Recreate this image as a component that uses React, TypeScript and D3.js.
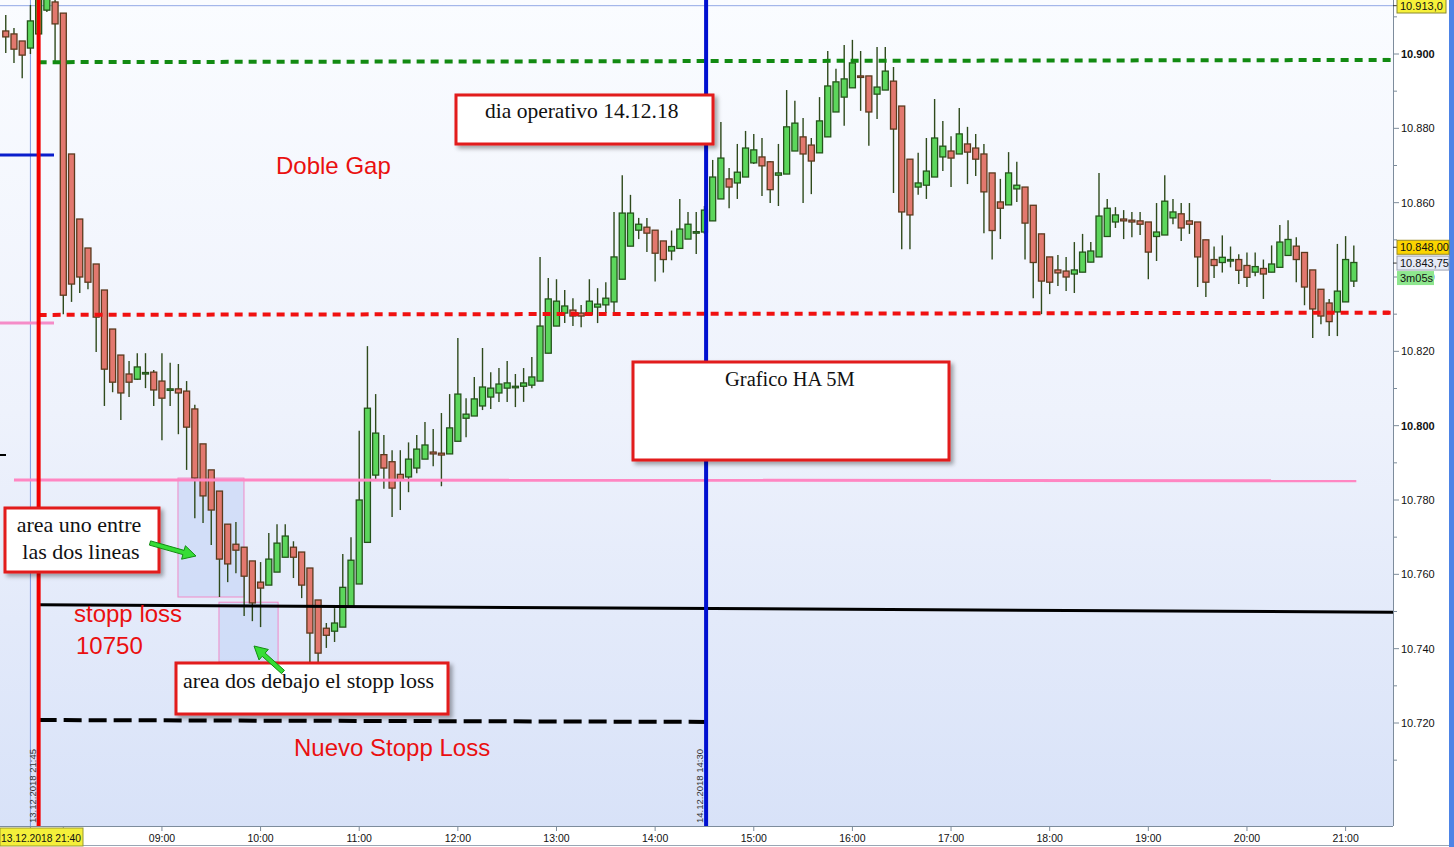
import React from 'react';
import * as d3 from 'd3';

// ---- DATA (Heikin-Ashi 5M candles, index 0 = 08:00 of 14.12.2018; negative = 13.12 evening) ----
const startIndex = -7;
const opens = [10906.2,10905.4,10903.5,10901.6,10905.4,10911.8,10914.0,
10911.0,10873.1,10855.6,10847.8,10843.5,10836.5,10826.0,10819.0,10813.9,10812.5,10814.1,10814.4,10812.0,10809.7,10809.9,10809.3,10804.5,10795.1,10788.1,10782.4,10773.5,10768.1,10767.3,10763.6,10757.9,10757.1,10760.6,10764.6,10767.3,10766.0,10761.7,10753.1,10745.5,10744.7,10745.8,10751.2,10757.4,10768.6,10786.7,10792.2,10790.3,10786.9,10786.2,10788.6,10791.0,10792.9,10792.6,10792.4,10795.8,10802.0,10802.6,10805.3,10807.7,10808.8,10810.1,10810.4,10810.6,10810.9,10812.0,10819.5,10826.8,10830.3,10831.1,10830.3,10830.0,10831.9,10832.5,10833.3,10839.4,10848.3,10852.6,10853.4,10852.6,10849.7,10847.0,10847.7,10850.2,10852.1,10852.1,10855.1,10861.0,10866.4,10865.3,10866.9,10870.7,10872.3,10871.0,10867.4,10867.7,10873.9,10877.7,10875.5,10873.4,10877.7,10884.4,10888.4,10890.9,10894.1,10894.1,10889.2,10890.3,10892.7,10886.0,10871.7,10864.2,10864.7,10866.9,10872.3,10873.9,10873.1,10875.8,10874.7,10873.1,10868.0,10860.2,10859.4,10863.7,10864.2,10859.3,10851.6,10845.4,10841.9,10841.6,10840.8,10841.3,10844.0,10845.4,10850.9,10854.8,10855.6,10855.3,10855.1,10854.8,10850.9,10851.3,10855.9,10857.0,10855.1,10854.8,10850.0,10844.7,10843.9,10844.6,10844.7,10843.1,10841.3,10842.3,10841.3,10842.6,10845.8,10848.3,10846.6,10841.9,10836.7,10833.0,10830.6,10833.3,10838.9];
const highs = [10910.5,10907.0,10903.5,10913.2,10918.8,10917.2,10914.5,
10911.0,10873.1,10855.6,10847.8,10843.5,10836.5,10826.0,10819.0,10817.4,10819.5,10819.5,10815.0,10819.5,10816.9,10816.6,10812.0,10805.6,10795.1,10788.1,10782.4,10773.5,10774.1,10767.3,10763.6,10763.3,10771.1,10773.5,10773.5,10768.9,10766.0,10761.7,10753.1,10746.9,10750.9,10765.5,10770.0,10798.6,10821.4,10808.5,10797.5,10793.4,10793.4,10795.5,10797.5,10801.0,10799.1,10803.4,10808.5,10823.6,10807.4,10813.1,10820.9,10814.4,10815.5,10817.4,10813.9,10815.5,10818.5,10845.4,10839.7,10839.4,10836.5,10834.3,10832.5,10839.4,10837.0,10838.6,10857.5,10867.4,10862.1,10855.9,10855.9,10852.6,10849.7,10852.5,10861.0,10857.5,10857.5,10859.1,10871.5,10881.7,10869.3,10875.8,10879.3,10878.5,10877.4,10871.2,10875.8,10890.3,10887.4,10882.8,10877.4,10888.4,10900.8,10896.0,10902.4,10903.8,10900.8,10894.1,10901.9,10901.9,10896.5,10886.0,10871.7,10873.4,10877.4,10887.9,10882.0,10877.9,10885.5,10880.4,10878.5,10875.8,10868.0,10866.4,10873.6,10871.0,10864.2,10859.3,10851.6,10845.4,10845.9,10845.4,10849.4,10851.6,10849.4,10868.0,10861.0,10858.8,10858.0,10857.5,10857.5,10854.8,10859.9,10867.4,10861.0,10859.9,10859.9,10854.8,10850.0,10848.2,10851.2,10848.2,10846.1,10846.6,10846.6,10844.7,10848.5,10854.0,10855.3,10850.7,10846.6,10841.9,10836.7,10834.1,10848.9,10851.0,10848.5];
const lows = [10900.3,10897.6,10893.5,10900.0,10904.8,10911.3,10897.6,
10830.0,10833.3,10835.7,10836.7,10819.8,10805.3,10809.0,10801.5,10807.7,10812.3,10810.1,10805.3,10796.1,10805.3,10797.7,10788.1,10775.1,10773.8,10767.9,10753.9,10757.9,10760.3,10748.8,10747.4,10745.8,10757.1,10760.6,10764.6,10759.0,10753.6,10736.1,10736.1,10740.2,10741.8,10745.8,10751.2,10757.4,10768.6,10785.4,10783.0,10775.4,10777.3,10782.1,10787.2,10791.0,10789.1,10783.7,10792.4,10795.8,10796.9,10802.6,10804.2,10804.5,10806.4,10806.4,10805.0,10806.4,10810.1,10812.0,10819.5,10826.8,10827.6,10826.8,10826.5,10830.0,10827.6,10830.3,10830.3,10839.4,10848.3,10850.2,10846.7,10838.8,10841.2,10844.5,10847.7,10850.2,10846.2,10851.6,10855.1,10861.0,10858.5,10861.0,10866.9,10870.4,10861.8,10859.9,10859.1,10867.7,10873.9,10859.9,10862.3,10873.4,10877.7,10884.4,10880.7,10890.9,10884.7,10875.3,10882.5,10890.3,10862.6,10847.5,10847.5,10862.1,10861.0,10866.9,10868.5,10864.2,10873.1,10865.0,10867.2,10851.8,10844.7,10850.2,10859.4,10860.2,10844.7,10834.3,10830.0,10835.4,10837.6,10836.2,10835.7,10841.3,10844.0,10845.4,10850.9,10853.2,10850.2,10850.7,10851.3,10839.4,10844.3,10851.3,10854.2,10849.7,10851.6,10837.3,10834.6,10839.7,10841.2,10842.6,10838.1,10837.3,10840.2,10834.1,10841.3,10842.6,10845.8,10838.6,10832.4,10823.6,10827.3,10824.1,10824.1,10833.3,10837.3];
const closes = [10904.6,10901.3,10899.7,10908.9,10918.3,10916.1,10908.1,
10835.1,10838.1,10840.0,10838.6,10829.2,10815.2,10811.7,10808.8,10811.7,10815.8,10814.3,10809.6,10807.4,10809.9,10808.8,10799.6,10785.9,10781.1,10777.3,10764.1,10762.8,10766.5,10759.5,10752.3,10756.3,10764.1,10768.4,10770.3,10764.6,10757.1,10744.2,10738.8,10743.6,10746.9,10756.5,10763.8,10780.0,10804.7,10798.0,10788.6,10783.2,10785.4,10791.0,10793.7,10794.8,10792.4,10792.1,10799.4,10808.5,10803.1,10807.2,10810.4,10810.1,10811.2,10811.5,10810.6,10811.5,10813.1,10826.8,10834.1,10833.5,10832.2,10829.5,10829.5,10833.5,10832.7,10834.3,10845.4,10857.2,10857.2,10854.2,10851.8,10846.4,10844.7,10848.2,10852.9,10854.2,10852.2,10858.0,10866.9,10872.0,10864.2,10868.2,10874.7,10874.2,10869.9,10863.5,10868.0,10880.4,10881.4,10873.1,10871.2,10882.0,10891.4,10892.5,10893.3,10897.6,10893.8,10884.4,10891.1,10895.4,10879.8,10857.5,10856.7,10865.3,10868.5,10877.4,10875.2,10872.0,10878.5,10873.6,10871.7,10862.9,10852.5,10858.5,10868.0,10864.7,10854.5,10843.9,10838.9,10838.6,10841.1,10840.0,10841.9,10846.7,10847.0,10856.4,10858.5,10856.7,10855.1,10854.8,10854.2,10846.7,10852.1,10860.4,10857.5,10853.2,10854.2,10845.4,10838.6,10843.1,10845.3,10844.7,10841.8,10839.9,10842.8,10840.8,10843.5,10849.4,10850.1,10844.7,10837.3,10831.4,10829.5,10828.0,10836.2,10844.7,10843.9];

const hourLabels = ['09:00','10:00','11:00','12:00','13:00','14:00','15:00','16:00','17:00','18:00','19:00','20:00','21:00'];
const hourIndex = [12,24,36,48,60,72,84,96,108,120,132,144,156];
const majorPrices = [10720,10740,10760,10780,10800,10820,10840,10860,10880,10900];
const minorPrices = [10710,10730,10750,10770,10790,10810,10830,10850,10870,10890,10910];

// drawn levels (start price, end price)
const greenGapLevel = [10897.8, 10898.4];
const redGapLevel = [10829.8, 10830.4];
const pinkLevel = [10785.4, 10785.2];
const stopLevel = [10751.8, 10749.8];
const newStopLevel = [10720.8, 10720.3];
const dayHigh = 10913.0;
const lastHigh = 10848.0;
const lastPrice = 10843.75;

const deFmt = d3.formatLocale({ decimal: ',', thousands: '.', grouping: [3], currency: ['', ''] });
const fmtInt = deFmt.format(',d');

export default function App() {
  const W = 1454, H = 847;
  const plotR = 1393, plotB = 826;
  const x = d3.scaleLinear().domain([0, 156]).range([63.3, 1345.6]);
  const y = d3.scaleLinear().domain([10720, 10900]).range([723, 54]);
  const iRight = x.invert(plotR);
  const candles = opens.map((o, k) => ({ i: startIndex + k, o, h: highs[k], l: lows[k], c: closes[k] }));
  const bw = 6;

  const line = d3.line<[number, number]>().x(d => x(d[0])).y(d => y(d[1]));

  const arrow = (x0: number, y0: number, x1: number, y1: number) => {
    const dx = x1 - x0, dy = y1 - y0; const len = Math.hypot(dx, dy);
    const ux = dx / len, uy = dy / len, px = -uy, py = ux;
    const hl = 13, hw = 7, sw = 2.2;
    const bx = x1 - ux * hl, by = y1 - uy * hl;
    const pts = [
      [x0 + px * sw, y0 + py * sw], [bx + px * sw, by + py * sw], [bx + px * hw, by + py * hw],
      [x1, y1], [bx - px * hw, by - py * hw], [bx - px * sw, by - py * sw], [x0 - px * sw, y0 - py * sw]
    ];
    return pts.map(p => p.join(',')).join(' ');
  };

  const serif = '"Liberation Serif", "DejaVu Serif", serif';
  const sans = '"Liberation Sans", Arial, sans-serif';

  return (
    <svg width={W} height={H} style={{ position: 'absolute', left: 0, top: 0, display: 'block' }}>
      <defs>
        <linearGradient id="bg" x1="0" y1="0" x2="0" y2="1">
          <stop offset="0" stopColor="#fafcff" />
          <stop offset="0.5" stopColor="#eef2fc" />
          <stop offset="1" stopColor="#d8e2f8" />
        </linearGradient>
        <clipPath id="plot"><rect x={0} y={0} width={plotR} height={plotB} /></clipPath>
        <filter id="shadow" x="-10%" y="-10%" width="130%" height="140%">
          <feDropShadow dx="3" dy="3" stdDeviation="2" floodColor="#000" floodOpacity="0.35" />
        </filter>
      </defs>
      <rect x={0} y={0} width={W} height={H} fill="#fff" />
      <rect x={0} y={0} width={plotR} height={plotB} fill="url(#bg)" />

      <g clipPath="url(#plot)">
        {/* area rectangles */}
        <rect x={x(13.95)} y={y(10785.9)} width={x(21.98) - x(13.95)} height={y(10753.9) - y(10785.9)} fill="#c9d7f6" fillOpacity={0.7} stroke="#f08ac8" strokeWidth={1} />
        <rect x={x(18.94)} y={y(10752.5)} width={x(26.13) - x(18.94)} height={y(10736.4) - y(10752.5)} fill="#c9d7f6" fillOpacity={0.7} stroke="#f08ac8" strokeWidth={1} />

        {/* thin cursor line & top line */}
        <line x1={x(-4)} x2={x(-4)} y1={0} y2={plotB} stroke="#7f9be0" strokeWidth={1} />
        <line x1={0} x2={plotR} y1={y(dayHigh)} y2={y(dayHigh)} stroke="#93a9e6" strokeWidth={1} />

        {/* candles */}
        {candles.map(d => {
          const up = d.c >= d.o;
          const top = y(Math.max(d.o, d.c)), bot = y(Math.min(d.o, d.c));
          const cx = x(d.i);
          return (
            <g key={d.i}>
              <line x1={cx} x2={cx} y1={y(d.h)} y2={y(d.l)} stroke="#2f4a1c" strokeWidth={1.4} />
              <rect x={cx - bw / 2} y={top} width={bw} height={Math.max(bot - top, 1.5)}
                fill={up ? '#5cd65c' : '#e2786e'} stroke={up ? '#24541a' : '#5b3a1e'} strokeWidth={1.3} />
            </g>
          );
        })}

        {/* short level marks on left */}
        <line x1={0} x2={54} y1={155} y2={155} stroke="#0a1ecc" strokeWidth={3} />
        <line x1={0} x2={54} y1={323} y2={323} stroke="#f58cc8" strokeWidth={3} />
        <line x1={0} x2={6} y1={455} y2={455} stroke="#000" strokeWidth={2} />

        {/* levels */}
        <path d={line([[-3, greenGapLevel[0]], [iRight, greenGapLevel[1]]])!} stroke="#128a12" strokeWidth={4} strokeDasharray="8,6" fill="none" />
        <path d={line([[-3, redGapLevel[0]], [iRight, redGapLevel[1]]])!} stroke="#f01010" strokeWidth={4} strokeDasharray="8,6" fill="none" />
        <path d={line([[-6, pinkLevel[0]], [157.3, pinkLevel[1]]])!} stroke="#ff86c2" strokeWidth={3} fill="none" />
        <path d={line([[-3, stopLevel[0]], [iRight, stopLevel[1]]])!} stroke="#000" strokeWidth={3} fill="none" />
        <path d={line([[-3, newStopLevel[0]], [78.2, newStopLevel[1]]])!} stroke="#000" strokeWidth={4} strokeDasharray="18,7" fill="none" />

        {/* vertical session lines */}
        <line x1={x(-3)} x2={x(-3)} y1={0} y2={plotB} stroke="#f20000" strokeWidth={4} />
        <line x1={x(78.2)} x2={x(78.2)} y1={0} y2={plotB} stroke="#0010d0" strokeWidth={4} />

        {/* end markers */}
        <rect x={1383} y={y(greenGapLevel[1]) - 2} width={6} height={4} fill="#128a12" />
        <rect x={1383} y={y(redGapLevel[1]) - 2} width={6} height={4} fill="#f01010" />
      </g>

      {/* rotated date labels */}
      <text transform={`translate(${x(-3) - 3},823) rotate(-90)`} fontFamily={sans} fontSize={9.5} fill="#333">13.12.2018 21:45</text>
      <text transform={`translate(${x(78.2) - 3},823) rotate(-90)`} fontFamily={sans} fontSize={9.5} fill="#333">14.12.2018 14:30</text>

      {/* plot frame */}
      <line x1={plotR + 0.5} x2={plotR + 0.5} y1={0} y2={plotB} stroke="#7d8c9c" />
      <line x1={0} x2={plotR} y1={plotB + 0.5} y2={plotB + 0.5} stroke="#7d8c9c" />
      <rect x={1449} y={0} width={5} height={H} fill="#4d84e6" />
      <line x1={0} x2={1449} y1={H - 1.5} y2={H - 1.5} stroke="#9aa6b4" />

      {/* right axis */}
      {minorPrices.map(p => (
        <line key={'m' + p} x1={plotR} x2={plotR + 4} y1={y(p)} y2={y(p)} stroke="#7d8c9c" />
      ))}
      {majorPrices.map(p => (
        <g key={p}>
          <line x1={plotR} x2={plotR + 6} y1={y(p)} y2={y(p)} stroke="#7d8c9c" />
          <text x={1401} y={y(p) + 4} fontFamily={sans} fontSize={11} fontWeight={p % 100 === 0 ? 'bold' : 'normal'} fill="#111">{fmtInt(p)}</text>
        </g>
      ))}
      {/* price boxes */}
      <line x1={plotR} x2={1397} y1={y(dayHigh)} y2={y(dayHigh)} stroke="#333" />
      <rect x={1397} y={-1} width={49} height={14} fill="#f7f13a" stroke="#8a8a30" />
      <text x={1400} y={10} fontFamily={sans} fontSize={11} fill="#111">{deFmt.format(',.1f')(dayHigh)}</text>
      <line x1={plotR} x2={1397} y1={y(lastHigh)} y2={y(lastHigh)} stroke="#333" />
      <rect x={1397} y={y(lastHigh) - 7} width={52} height={14} fill="#fbd400" stroke="#9a8a20" />
      <text x={1400} y={y(lastHigh) + 4} fontFamily={sans} fontSize={11} fill="#111">{deFmt.format(',.2f')(lastHigh)}</text>
      <line x1={plotR} x2={1397} y1={y(lastPrice)} y2={y(lastPrice)} stroke="#333" />
      <rect x={1397} y={y(lastPrice) - 7} width={52} height={14} fill="#e6eaf6" stroke="#9aa0b0" />
      <text x={1400} y={y(lastPrice) + 4} fontFamily={sans} fontSize={11} fill="#111">{deFmt.format(',.2f')(lastPrice)}</text>
      <rect x={1397} y={y(lastPrice) + 8} width={37} height={14} fill="#8ee68e" />
      <text x={1400} y={y(lastPrice) + 19} fontFamily={sans} fontSize={11} fill="#111">3m05s</text>

      {/* bottom axis */}
      {[-4, 0, ...hourIndex].map(i => (
        <line key={'t' + i} x1={x(i)} x2={x(i)} y1={plotB} y2={plotB + 5} stroke="#7d8c9c" />
      ))}
      {hourIndex.map((i, k) => (
        <text key={'h' + i} x={x(i)} y={842} textAnchor="middle" fontFamily={sans} fontSize={10.5} fill="#111">{hourLabels[k]}</text>
      ))}
      <rect x={0} y={828} width={83} height={18} fill="#f4ef3a" stroke="#9a9a30" />
      <text x={1} y={842} fontFamily={sans} fontSize={11} fill="#111" textLength={80} lengthAdjust="spacingAndGlyphs">13.12.2018 21:40</text>

      {/* red annotations */}
      <text x={276} y={174} fontFamily={sans} fontSize={24} fill="#ea1010">Doble Gap</text>
      <text x={74} y={622} fontFamily={sans} fontSize={24} fill="#ea1010">stopp loss</text>
      <text x={76} y={654} fontFamily={sans} fontSize={24} fill="#ea1010">10750</text>
      <text x={294} y={756} fontFamily={sans} fontSize={24} fill="#ea1010">Nuevo Stopp Loss</text>

      {/* boxes */}
      <g filter="url(#shadow)">
        <rect x={456} y={95} width={257} height={49} fill="#fff" stroke="#e21a1a" strokeWidth={3} />
        <rect x={633} y={362} width={316} height={98} fill="#fff" stroke="#e21a1a" strokeWidth={3} />
        <rect x={5} y={508} width={154} height={64} fill="#fff" stroke="#e21a1a" strokeWidth={3} />
        <rect x={176} y={663} width={272} height={51} fill="#fff" stroke="#e21a1a" strokeWidth={3} />
      </g>
      <text x={485} y={118} fontFamily={serif} fontSize={21.5} fill="#111">dia operativo 14.12.18</text>
      <text x={725} y={386} fontFamily={serif} fontSize={20.5} fill="#111">Grafico HA 5M</text>
      <text x={79} y={532} textAnchor="middle" fontFamily={serif} fontSize={22} fill="#111">area uno entre</text>
      <text x={81} y={559} textAnchor="middle" fontFamily={serif} fontSize={22} fill="#111">las dos lineas</text>
      <text x={183} y={688} fontFamily={serif} fontSize={22} fill="#111">area dos debajo el stopp loss</text>

      {/* green arrows */}
      <polygon points={arrow(150, 543, 196, 556)} fill="#36dd36" stroke="#138c13" strokeWidth={1} />
      <polygon points={arrow(283, 672, 254, 646)} fill="#36dd36" stroke="#138c13" strokeWidth={1} />
    </svg>
  );
}
